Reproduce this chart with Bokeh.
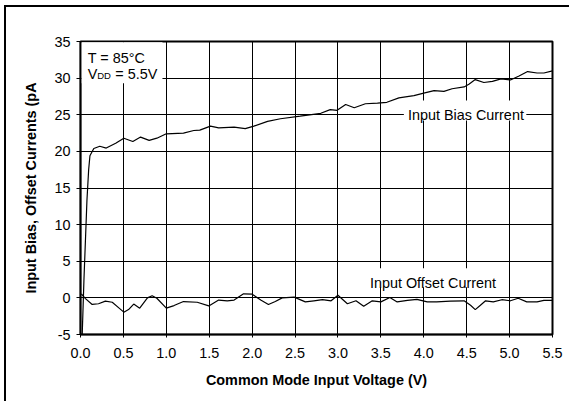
from bokeh.plotting import figure
from bokeh.models import FixedTicker, NumeralTickFormatter, Label, Range1d
from bokeh.embed import file_html
from bokeh.resources import INLINE

# Input bias current (pA) vs common mode input voltage (V)
bias_x = [0.02, 0.04, 0.075, 0.095, 0.11, 0.155, 0.225, 0.30, 0.41, 0.505, 0.61, 0.70,
          0.80, 0.89, 1.00, 1.20, 1.32, 1.39, 1.515, 1.61, 1.79, 1.92, 2.02, 2.18, 2.33,
          2.56, 2.80, 2.91, 2.99, 3.09, 3.19, 3.32, 3.46, 3.57, 3.71, 3.885, 4.00, 4.12,
          4.235, 4.33, 4.47, 4.53, 4.60, 4.70, 4.80, 4.90, 5.01, 5.11, 5.21, 5.32, 5.40, 5.50]
bias_y = [-5.0, 2.4, 13.3, 17.5, 19.4, 20.4, 20.7, 20.45, 21.1, 21.8, 21.35, 21.95,
          21.5, 21.8, 22.4, 22.5, 22.85, 22.9, 23.45, 23.2, 23.3, 23.1, 23.45, 24.1, 24.45,
          24.8, 25.2, 25.7, 25.6, 26.4, 25.95, 26.5, 26.6, 26.7, 27.3, 27.6, 27.95, 28.3,
          28.2, 28.55, 28.8, 29.2, 29.8, 29.4, 29.55, 29.9, 29.75, 30.3, 30.9, 30.7, 30.7, 31.0]

# Input offset current (pA)
offset_x = [0.01, 0.058, 0.136, 0.21, 0.29, 0.37, 0.45, 0.505, 0.56, 0.62, 0.69, 0.78,
            0.835, 0.89, 1.00, 1.09, 1.20, 1.36, 1.495, 1.61, 1.71, 1.79, 1.90, 2.00, 2.10,
            2.19, 2.27, 2.35, 2.49, 2.62, 2.72, 2.82, 2.92, 3.00, 3.11, 3.21, 3.30, 3.40,
            3.50, 3.605, 3.69, 3.81, 3.92, 4.04, 4.15, 4.31, 4.47, 4.545, 4.60, 4.66, 4.72,
            4.81, 4.91, 5.01, 5.10, 5.20, 5.32, 5.40, 5.50]
offset_y = [0.55, -0.1, -0.9, -0.8, -0.45, -0.6, -1.4, -1.95, -1.6, -0.85, -1.4, 0.0,
            0.3, -0.05, -1.4, -1.05, -0.5, -0.6, -1.1, -0.3, -0.4, -0.3, 0.55, 0.5, -0.3,
            -0.9, -0.5, 0.0, 0.1, -0.55, -0.4, -0.25, -0.4, 0.35, -0.8, -0.4, -1.15, -0.4,
            -0.55, 0.05, -0.55, -0.35, -0.2, -0.55, -0.55, -0.45, -0.4, -1.0, -1.6, -1.0, -0.4,
            -0.55, -0.25, -0.4, -0.05, -0.55, -0.55, -0.35, -0.35]

x_ticks = [0.0, 0.5, 1.0, 1.5, 2.0, 2.5, 3.0, 3.5, 4.0, 4.5, 5.0, 5.5]
y_ticks = [-5, 0, 5, 10, 15, 20, 25, 30, 35]

FONT = "Liberation Sans"
FS = "14.4px"

p = figure(width=565, height=396, x_range=Range1d(0, 5.5), y_range=Range1d(-5, 35),
           output_backend="svg", toolbar_location=None,
           min_border_left=74, min_border_right=19, min_border_top=34, min_border_bottom=69)
# outer frame of the original figure (only its top and left edges are visible)
p.styles = {"margin-left": "4px", "margin-top": "5px",
            "border-left": "2px solid black", "border-top": "2px solid black"}
p.background_fill_color = "white"
p.border_fill_color = "white"
p.outline_line_color = "black"
p.outline_line_width = 2

for ax, ticks in ((p.xaxis, x_ticks), (p.yaxis, y_ticks)):
    ax.ticker = FixedTicker(ticks=ticks)
    ax.axis_line_color = "black"
    ax.axis_line_width = 1.5
    ax.major_tick_line_color = "black"
    ax.major_tick_in = 0
    ax.minor_tick_line_color = None
    ax.major_label_text_font = FONT
    ax.major_label_text_font_size = FS
    ax.major_label_text_color = "black"
    ax.axis_label_text_font = FONT
    ax.axis_label_text_font_size = FS
    ax.axis_label_text_font_style = "bold"
    ax.axis_label_text_color = "black"

p.xaxis.formatter = NumeralTickFormatter(format="0.0")
p.yaxis.formatter = NumeralTickFormatter(format="0")
p.xaxis.major_tick_out = 3
p.yaxis.major_tick_out = 4
p.xaxis.major_label_standoff = 10
p.yaxis.major_label_standoff = 6
p.xaxis.axis_label = "Common Mode Input Voltage (V)"
p.yaxis.axis_label = "Input Bias, Offset Currents (pA"
p.xaxis.axis_label_standoff = 11
p.yaxis.axis_label_standoff = 12

p.xgrid.ticker = FixedTicker(ticks=x_ticks)
p.ygrid.ticker = FixedTicker(ticks=y_ticks)
for g in (p.xgrid, p.ygrid):
    g.grid_line_color = "black"
    g.grid_line_alpha = 1.0
    g.grid_line_width = 1

# white boxes behind annotations
p.quad(left=[0.012, 3.768, 3.33], right=[0.955, 5.195, 4.895],
       bottom=[29.3, 24.22, 1.44], top=[34.9, 26.95, 4.03],
       fill_color="white", line_color=None)

p.line(bias_x, bias_y, line_color="black", line_width=1.2)
p.line(offset_x, offset_y, line_color="black", line_width=1.2)

def lab(x, y, text, size=FS):
    p.add_layout(Label(x=x, y=y, text=text, text_font=FONT, text_font_size=size,
                       text_color="black", text_baseline="alphabetic", text_align="left"))

lab(0.085, 32.78, "T = 85°C")
lab(0.085, 30.5, "V")
lab(0.195, 30.36, "DD", "9.5px")
lab(0.405, 30.5, "= 5.5V")
lab(3.815, 24.9, "Input Bias Current")
lab(3.372, 2.08, "Input Offset Current")

open("out.html", "w").write(file_html(p, INLINE))
